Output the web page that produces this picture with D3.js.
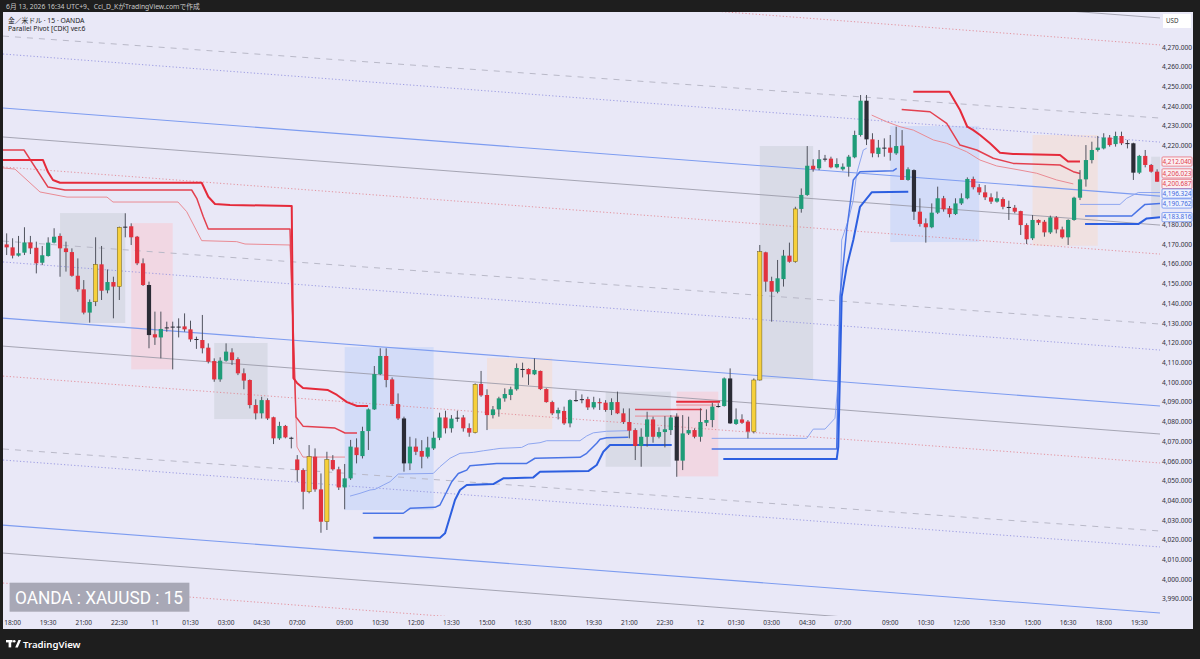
<!DOCTYPE html>
<html><head><meta charset="utf-8">
<script src="https://cdn.jsdelivr.net/npm/d3@7"></script>
<style>html,body{margin:0;padding:0;background:#1e1e1e;overflow:hidden}svg{display:block}</style>
</head><body><svg id="c" width="1200" height="659"></svg>
<script>
// ---------- DATA ----------
const firstBar = -1; // bar index of first candle (17:45); bar 0 = 18:00 (day 10)
// [open, high, low, close]
const candles = [
[4170.0,4175.6,4164.6,4168.5],[4168.5,4173.1,4162.9,4164.3],[4164.3,4174.3,4163.8,4165.5],[4165.8,4178.7,4164.6,4171.0],
[4171.0,4174.3,4165.1,4168.0],[4168.3,4171.4,4155.3,4160.4],[4160.7,4169.2,4159.5,4164.5],[4164.1,4173.6,4163.8,4170.9],
[4170.9,4178.2,4170.5,4173.9],[4174.3,4175.6,4153.6,4168.0],[4168.0,4171.4,4156.2,4166.1],[4166.1,4168.0,4153.6,4154.1],
[4154.1,4162.9,4146.0,4147.2],[4147.2,4151.9,4134.5,4135.4],[4135.4,4142.1,4130.3,4140.8],[4140.9,4173.6,4138.7,4159.9],
[4159.9,4169.2,4141.8,4146.5],[4146.7,4157.3,4145.2,4150.9],[4150.9,4153.6,4132.5,4148.6],[4148.6,4179.0,4141.8,4178.7],
[4179.0,4185.8,4173.6,4178.7],[4179.2,4180.7,4169.7,4173.6],[4173.9,4174.3,4159.5,4160.4],[4160.4,4162.9,4148.9,4149.4],
[4149.4,4151.1,4117.3,4124.0],[4124.4,4135.9,4119.0,4122.8],[4122.8,4135.9,4112.2,4127.1],[4127.6,4130.8,4125.7,4127.9],
[4127.9,4130.8,4106.6,4128.3],[4128.1,4132.5,4122.8,4128.3],[4128.4,4135.0,4125.7,4126.9],[4126.9,4131.3,4120.6,4121.8],
[4121.8,4123.2,4117.0,4122.0],[4121.5,4134.2,4114.7,4117.3],[4117.6,4119.8,4109.6,4110.5],[4110.8,4112.2,4100.3,4101.5],
[4101.5,4112.7,4100.3,4111.0],[4111.0,4119.8,4110.5,4115.6],[4115.2,4117.3,4108.8,4111.3],[4111.8,4112.7,4103.7,4104.6],
[4104.6,4107.1,4096.5,4100.9],[4101.2,4101.5,4086.8,4088.5],[4088.5,4091.4,4081.2,4084.3],[4084.3,4092.7,4081.7,4091.0],
[4091.0,4091.9,4080.9,4081.7],[4082.3,4082.6,4068.7,4071.6],[4071.6,4080.0,4070.8,4077.9],[4077.9,4078.4,4071.6,4072.1],
[4071.9,4072.4,4066.5,4071.8],[4060.9,4063.1,4049.6,4055.5],[4055.5,4056.4,4035.6,4044.5],[4044.5,4068.2,4043.7,4062.3],
[4062.3,4066.5,4044.5,4045.7],[4045.7,4053.8,4023.7,4029.3],[4029.3,4064.8,4025.1,4060.9],[4060.6,4063.1,4055.2,4055.9],
[4055.9,4057.2,4045.4,4046.7],[4046.7,4058.6,4035.6,4051.3],[4051.3,4070.8,4050.5,4067.4],[4067.0,4071.6,4058.9,4063.1],
[4062.6,4077.5,4061.4,4075.3],[4075.3,4086.8,4065.7,4086.3],[4086.3,4108.3,4086.0,4104.2],[4104.2,4117.3,4103.7,4113.4],
[4113.4,4117.3,4097.5,4101.2],[4101.5,4102.5,4088.0,4089.0],[4089.0,4094.4,4080.9,4081.7],[4081.7,4082.6,4054.7,4058.9],
[4058.9,4072.4,4055.5,4067.4],[4067.4,4071.6,4063.1,4064.8],[4065.2,4070.7,4056.4,4062.3],[4062.3,4072.4,4061.4,4067.0],
[4066.5,4075.0,4065.7,4071.9],[4071.9,4084.6,4070.7,4082.2],[4082.2,4085.6,4074.1,4076.7],[4076.7,4083.4,4074.5,4081.6],
[4081.9,4085.6,4080.0,4082.1],[4082.2,4083.4,4075.0,4076.7],[4076.8,4079.2,4072.4,4074.5],[4074.5,4099.5,4074.1,4099.0],
[4099.2,4105.8,4092.7,4093.4],[4093.6,4096.5,4075.8,4083.4],[4083.4,4088.0,4081.7,4086.3],[4086.3,4092.7,4082.6,4091.9],
[4091.9,4097.0,4090.2,4094.1],[4093.6,4097.8,4091.0,4096.5],[4096.5,4109.6,4095.8,4107.3],[4106.6,4110.0,4102.5,4106.8],
[4106.8,4107.1,4098.7,4104.1],[4104.1,4112.2,4103.7,4106.3],[4105.8,4106.0,4096.1,4096.6],[4096.6,4097.0,4089.7,4090.0],
[4090.0,4090.7,4083.4,4084.3],[4084.3,4087.2,4081.2,4086.0],[4085.5,4087.7,4078.4,4079.2],[4079.2,4091.4,4077.2,4091.0],
[4090.9,4095.8,4090.2,4091.0],[4091.4,4093.9,4089.4,4091.5],[4091.5,4092.7,4086.0,4087.3],[4087.3,4092.7,4086.3,4090.0],
[4090.0,4091.9,4086.0,4089.4],[4089.7,4091.0,4085.1,4086.0],[4086.0,4091.9,4083.4,4090.0],[4090.0,4095.3,4083.9,4084.3],
[4084.3,4086.8,4078.9,4079.9],[4079.9,4086.8,4071.6,4075.5],[4075.8,4076.7,4060.6,4067.7],[4067.7,4076.7,4057.2,4072.4],
[4072.4,4085.1,4067.4,4081.2],[4081.2,4082.6,4069.4,4072.4],[4072.4,4077.2,4071.6,4074.8],[4074.8,4082.9,4067.0,4076.2],
[4075.8,4083.4,4073.3,4082.2],[4082.6,4084.3,4052.1,4060.3],[4060.3,4083.4,4055.5,4074.1],[4074.1,4082.6,4073.3,4075.8],
[4075.8,4076.7,4071.6,4072.4],[4072.4,4086.8,4069.9,4079.9],[4079.5,4086.3,4077.8,4080.9],[4080.9,4089.7,4077.2,4087.7],
[4087.7,4089.4,4087.2,4088.0],[4088.0,4102.5,4087.7,4102.0],[4102.0,4107.1,4078.9,4079.2],[4078.9,4086.8,4078.4,4081.2],
[4081.2,4083.8,4078.9,4079.5],[4080.1,4080.9,4071.6,4075.0],[4075.0,4102.0,4074.1,4101.2],[4101.2,4169.7,4100.9,4166.3],
[4166.0,4166.3,4146.0,4151.1],[4151.4,4153.6,4130.8,4146.0],[4146.0,4162.1,4145.2,4152.8],[4152.4,4167.2,4148.6,4164.3],
[4164.3,4170.9,4160.7,4161.2],[4161.2,4189.1,4160.7,4188.0],[4188.0,4198.4,4186.1,4195.1],[4195.1,4219.9,4194.6,4209.9],
[4209.9,4213.2,4206.9,4208.1],[4208.6,4217.9,4207.7,4213.2],[4213.3,4215.4,4212.0,4213.5],[4213.5,4214.5,4208.6,4209.1],
[4209.1,4213.7,4208.6,4210.8],[4208.1,4211.1,4207.4,4209.4],[4209.4,4215.4,4204.4,4214.5],[4214.2,4227.7,4213.7,4225.5],
[4225.5,4245.8,4224.7,4242.9],[4242.9,4245.8,4220.4,4223.3],[4223.3,4226.4,4214.2,4216.2],[4215.9,4223.0,4214.2,4219.1],
[4218.9,4223.8,4214.5,4219.1],[4219.1,4225.5,4212.5,4216.5],[4216.2,4229.7,4215.4,4219.9],[4220.1,4228.0,4202.7,4202.7],
[4202.7,4209.1,4202.3,4208.1],[4207.7,4208.1,4182.4,4186.6],[4186.6,4193.4,4179.0,4180.4],[4180.7,4183.2,4170.9,4178.7],
[4178.7,4190.8,4178.2,4186.1],[4186.1,4199.3,4185.4,4193.4],[4193.4,4194.6,4186.6,4187.8],[4188.3,4189.5,4183.7,4185.4],
[4185.4,4193.4,4184.9,4190.8],[4190.8,4195.9,4190.0,4193.4],[4193.4,4204.0,4192.9,4203.2],[4203.2,4204.4,4197.9,4199.0],
[4199.0,4200.6,4195.1,4196.4],[4196.4,4200.1,4192.5,4193.9],[4193.9,4195.9,4190.5,4191.7],[4191.7,4196.8,4191.2,4193.4],
[4193.0,4193.9,4187.8,4189.1],[4189.0,4192.2,4182.4,4188.8],[4188.6,4190.0,4185.8,4186.6],[4186.9,4187.1,4174.8,4179.8],
[4179.8,4180.7,4170.2,4172.6],[4173.1,4184.9,4172.2,4182.4],[4182.4,4182.7,4179.8,4181.0],[4181.5,4182.4,4173.9,4176.1],
[4176.1,4184.6,4175.3,4183.7],[4183.7,4184.4,4175.6,4177.6],[4177.6,4179.0,4172.9,4173.6],[4173.6,4182.7,4169.7,4182.4],
[4182.4,4194.2,4182.0,4193.7],[4193.7,4207.7,4192.5,4203.0],[4203.0,4220.4,4199.3,4212.8],[4212.8,4222.1,4211.1,4217.9],
[4217.9,4225.0,4217.1,4219.1],[4218.7,4226.4,4218.2,4224.2],[4224.2,4225.5,4219.6,4220.4],[4220.9,4227.2,4219.6,4225.0],
[4225.0,4227.2,4220.4,4221.3],[4221.4,4223.0,4218.7,4221.3],[4221.3,4221.6,4202.7,4206.4],[4206.4,4215.4,4205.7,4214.9],
[4214.9,4217.9,4209.1,4210.3],[4210.3,4210.8,4206.4,4206.9],[4206.9,4208.1,4201.8,4201.8]
];
const yellowBars = [14,18,50,53,78,125,126,132];
const darkBars = [19,23,26,27,28,31,47,66,75,86,95,96,112,119,121,137,144,147,152,168,188,189];

const timeTickBars   = [0,6,12,18,24,30,36,42,48,56,62,68,74,80,86,92,98,104,110,116,122,128,134,140,148,154,160,166,172,178,184,190];
const timeTickLabels = ["18:00","19:30","21:00","22:30","11","01:30","03:00","04:30","07:00","09:00","10:30","12:00","13:30","15:00","16:30","18:00","19:30","21:00","22:30","12","01:30","03:00","04:30","07:00","09:00","10:30","12:00","13:30","15:00","16:30","18:00","19:30"];
const priceTicks = [3990,4000,4010,4020,4030,4040,4050,4060,4070,4080,4090,4100,4110,4120,4130,4140,4150,4160,4170,4180,4190,4200,4210,4220,4230,4240,4250,4260,4270];

// parallel channel lines: [price at left edge, price at right edge]
const channelBlue   = [[4239.2,4194.5],[4132.6,4088.0],[4027.6,3983.0]];
const channelGray   = [[4329.5,4284.9],[4224.5,4179.8],[4118.4,4073.8],[4013.4,3968.8]];
const channelPinkDot= [[4315.8,4271.2],[4209.3,4165.1],[4103.2,4059.1],[3998.2,3954.0]];
const channelBlueDot= [[4266.6,4221.9],[4161.1,4116.4],[4060.6,4016.5]];
const channelDash   = [[4275.7,4234.1],[4171.7,4129.6],[4066.2,4024.6]];

// range boxes: [start bar, end bar, top, bottom, kind]
const rangeBoxes = [
[8,19,4185.9,4130.1,"gray"],[20,27,4180.8,4106.6,"pink"],[34,43,4120.0,4081.4,"gray"],
[56,71,4117.9,4035.2,"blue"],[80,91,4112.4,4076.3,"beige"],[100,111,4095.3,4057.2,"gray"],
[112,119,4095.3,4052.3,"pink"],[126,135,4219.9,4101.7,"gray"],[148,163,4230.1,4171.2,"blue"],
[172,183,4225.5,4169.3,"beige"],[192,196,4214.5,4184.0,"gray"]
];

// pivot lines: segments of [bar, price]
const resistance1 = [
[[-1.62,4212.8],[5.13,4212.8],[5.97,4206.7],[6.81,4202.7],[7.99,4201.3],[31.89,4201.3],[33.0,4194.2],[34.13,4190.5],[36.66,4190.0],[47.07,4189.5],[47.35,4102.2],[47.96,4099.7],[48.97,4097.1],[53.19,4096.1],[54.7,4093.6],[56.39,4090.0],[58.08,4088.0],[59.93,4088.0]],
[[111.9,4090.2],[119.3,4090.2]],
[[151.89,4247.5],[157.96,4247.5],[159.76,4238.2],[160.99,4229.7],[162.0,4228.0],[163.14,4225.5],[164.82,4221.3],[166.51,4216.5],[168.7,4215.9],[176.63,4215.4],[177.98,4212.04],[180.0,4212.04]]
];
const resistance2 = [
[[-1.62,4217.9],[1.92,4217.9],[5.97,4199.1],[8.84,4197.6],[30.2,4197.6],[31.05,4193.4],[32.16,4184.0],[33.0,4177.8],[46.78,4177.8],[47.79,4082.4],[48.97,4077.8],[54.37,4076.8],[56.06,4074.3],[58.08,4074.3]],
[[104.96,4086.3],[116.26,4086.3]],
[[149.93,4238.5],[154.7,4237.3],[157.52,4231.4],[159.76,4220.4],[162.58,4217.9],[165.38,4213.7],[168.75,4211.1],[176.63,4210.3],[178.87,4206.9],[180.0,4206.02]]
];
const resistance3 = [
[[-1.62,4208.8],[0.40,4208.2],[4.62,4196.6],[9.17,4194.0],[15.92,4194.0],[16.93,4191.5],[27.89,4191.5],[29.36,4186.6],[31.89,4171.9],[37.79,4171.4],[39.19,4170.2],[46.78,4169.7],[47.96,4067.2],[48.97,4062.1],[56.06,4062.1]],
[[104.96,4082.9],[112.4,4082.9]],
[[111.9,4088.5],[118.6,4088.5]],
[[144.87,4235.6],[147.4,4232.2],[149.65,4229.7],[151.89,4228.0],[155.26,4223.0],[157.52,4221.3],[160.89,4217.0],[163.14,4212.8],[165.95,4209.8],[169.88,4207.7],[172.69,4206.1],[176.06,4202.7],[178.87,4200.69]]
];
const support1 = [
[[60.83,4021.2],[72.07,4021.2],[72.92,4023.4],[73.76,4031.8],[74.6,4040.3],[75.45,4045.4],[76.58,4047.9],[81.06,4048.4],[82.75,4051.3],[87.81,4051.8],[88.94,4054.7],[97.08,4055.0],[98.5,4058.1],[99.61,4064.8],[100.74,4068.2],[111.15,4068.2]],
[[119.85,4061.1],[138.97,4061.1],[139.24,4067.3],[139.81,4143.5],[140.66,4158.7],[141.77,4172.2],[142.9,4189.1],[144.87,4196.4],[151.04,4196.7]],
[[180.85,4180.3],[189.83,4180.3],[191.25,4183.2],[193.49,4183.82]]
];
const support2 = [
[[59.04,4033.6],[65.89,4033.6],[67.02,4036.1],[71.23,4036.6],[72.07,4037.8],[73.2,4044.5],[74.05,4049.6],[75.16,4053.8],[76.58,4055.5],[77.13,4057.7],[81.64,4058.9],[86.69,4058.9],[88.09,4061.5],[95.68,4062.0],[96.81,4064.0],[98.5,4069.1],[99.06,4071.1],[100.19,4071.9],[103.83,4072.1]],
[[117.89,4066.2],[138.97,4066.2],[139.53,4143.5],[140.66,4177.3],[141.77,4202.7],[142.9,4206.9],[148.52,4207.4],[149.09,4208.6]],
[[180.85,4184.4],[188.72,4184.4],[189.83,4187.4],[190.96,4190.3],[193.49,4190.76]]
];
const support3 = [
[[56.9,4042.3],[58.58,4043.7],[60.27,4045.4],[61.11,4045.7],[62.51,4047.9],[63.64,4049.6],[65.04,4053.5],[70.94,4053.8],[72.07,4057.2],[73.76,4061.5],[75.45,4064.0],[77.69,4064.5],[79.38,4065.3],[81.06,4066.0],[82.19,4066.5],[85.85,4067.0],[86.96,4068.7],[88.94,4069.4],[90.07,4070.4],[95.68,4070.4],[96.81,4072.8],[97.93,4074.4],[100.19,4075.2],[103.83,4075.5]],
[[117.89,4071.6],[133.91,4071.6],[135.02,4076.3],[137.0,4076.3],[138.68,4081.8],[139.24,4101.2],[139.81,4172.2],[140.93,4182.4],[141.77,4192.5],[142.35,4206.1],[143.46,4217.9],[144.03,4218.8]],
[[180.0,4190.3],[186.74,4190.3],[187.87,4193.4],[189.83,4196.32],[193.49,4196.32]]
];
const lastLabelValues = [4212.040,4206.023,4200.687,4196.324,4190.762,4183.816];
const lastLabelKinds  = ["r","r","r","b","b","b"];

// ---------- RENDER ----------
const W=1200,H=659;
const plot={x0:3,x1:1160,y0:12,y1:616};
const x=d3.scaleLinear().domain([-1.619,193.49]).range([plot.x0,plot.x1]);
const y=d3.scaleLinear().domain([3981.47,4287.91]).range([plot.y1,plot.y0]);
const FONT='"Noto Sans","Noto Sans CJK JP",sans-serif';
const svg=d3.select('#c');
svg.append('rect').attr('width',W).attr('height',H).attr('fill','#1e1e1e');
svg.append('rect').attr('x',3).attr('y',12).attr('width',1190).attr('height',617).attr('fill','#e9e8f7');
svg.append('defs').append('clipPath').attr('id','clip').append('rect')
  .attr('x',plot.x0).attr('y',plot.y0).attr('width',plot.x1-plot.x0).attr('height',plot.y1-plot.y0);
const g=svg.append('g').attr('clip-path','url(#clip)');

const boxFill={gray:'#d9dbe7',pink:'#f1d7e3',blue:'#d3dcf8',beige:'#f0e1e1'};
g.selectAll('rect.box').data(rangeBoxes).join('rect').attr('class','box')
  .attr('x',d=>x(d[0])).attr('width',d=>x(d[1])-x(d[0]))
  .attr('y',d=>y(d[2])).attr('height',d=>y(d[3])-y(d[2]))
  .attr('fill',d=>boxFill[d[4]]);

const [kL,kR]=x.domain();
function chan(data,stroke,width,dash,op){
  g.append('g').selectAll('line').data(data).join('line')
   .attr('x1',x(kL)).attr('x2',x(kR)).attr('y1',d=>y(d[0])).attr('y2',d=>y(d[1]))
   .attr('stroke',stroke).attr('stroke-width',width).attr('stroke-dasharray',dash).attr('opacity',op);
}
chan(channelDash,'#b9b9c8',1,'6,6',1);
chan(channelPinkDot,'#e3848f',1,'1.2,2.2',0.85);
chan(channelBlueDot,'#8f8fe0',1,'1.2,2.2',0.85);
chan(channelGray,'#9a9aa8',1,null,0.85);
chan(channelBlue,'#7d9cf0',1.1,null,1);

const line=d3.line().x(d=>x(d[0])).y(d=>y(d[1]));
function piv(segs,stroke,width){
  g.append('g').selectAll('path').data(segs).join('path')
   .attr('d',line).attr('fill','none').attr('stroke',stroke).attr('stroke-width',width)
   .attr('stroke-linejoin','round');
}
piv(resistance3,'#ea8b94',1);
piv(resistance2,'#e3404f',1.5);
piv(resistance1,'#e52a3a',2);
piv(support3,'#8ea6f0',1);
piv(support2,'#4a74e6',1.5);
piv(support1,'#2d5fe0',2);

// candles
const bars=candles.map((c,i)=>({k:firstBar+i,o:c[0],h:c[1],l:c[2],c:c[3]}));
const ySet=new Set(yellowBars), kSet=new Set(darkBars);
function col(d){ if(ySet.has(d.k)) return '#f6d03b'; if(kSet.has(d.k)) return '#2b2c36'; return d.c>=d.o?'#1f9c78':'#e1323f'; }
const cg=g.append('g');
cg.selectAll('line').data(bars).join('line')
  .attr('x1',d=>x(d.k)).attr('x2',d=>x(d.k)).attr('y1',d=>y(d.h)).attr('y2',d=>y(d.l))
  .attr('stroke','#50535e').attr('stroke-width',1);
cg.selectAll('rect').data(bars).join('rect')
  .attr('x',d=>x(d.k)-2.1).attr('width',4.2)
  .attr('y',d=>y(Math.max(d.o,d.c))).attr('height',d=>Math.max(1,Math.abs(y(d.o)-y(d.c))))
  .attr('fill',col)
  .attr('stroke',d=>ySet.has(d.k)?'#6a5a18':'none').attr('stroke-width',0.5);

// last value label positions (spread to avoid overlap)
let prev=-1e9;
const labs=lastLabelValues.map((v,i)=>{let yy=y(v); if(yy<prev+9.6) yy=prev+9.6; prev=yy; return {v,yy,kind:lastLabelKinds[i]};});

// price axis (ticks hidden under the value labels are not drawn, as in the reference)
const fmt=d3.format(',.3f');
const visibleTicks=priceTicks.filter(t=>labs.every(l=>Math.abs(y(t)-l.yy)>6.5));
svg.append('g').selectAll('text').data(visibleTicks).join('text')
  .attr('x',1177).attr('y',d=>y(d)+2.3).attr('text-anchor','middle')
  .attr('font-family',FONT).attr('font-size',6.6).attr('fill','#2f2f3a').text(d=>fmt(d));
// USD box
svg.append('rect').attr('x',1163).attr('y',14).attr('width',28).attr('height',14).attr('fill','#ffffff');
svg.append('text').attr('x',1166).attr('y',23.2).attr('font-family',FONT).attr('font-size',6.2).attr('fill','#333').text('USD');

const lg=svg.append('g');
lg.selectAll('rect').data(labs).join('rect')
  .attr('x',1162).attr('y',d=>d.yy-4.6).attr('width',30).attr('height',9.2).attr('rx',1)
  .attr('fill',d=>d.kind==='r'?'#fbeef1':'#eef2fd')
  .attr('stroke',d=>d.kind==='r'?'#e8707c':'#6d8ff0').attr('stroke-width',0.8);
lg.selectAll('text').data(labs).join('text')
  .attr('x',1177).attr('y',d=>d.yy+2.3).attr('text-anchor','middle')
  .attr('font-family',FONT).attr('font-size',6.4)
  .attr('fill',d=>d.kind==='r'?'#e0404e':'#3f68e0').text(d=>fmt(d.v));

// time axis
svg.append('g').selectAll('text').data(timeTickBars).join('text')
  .attr('x',d=>x(d)).attr('y',625).attr('text-anchor','middle')
  .attr('font-family',FONT).attr('font-size',6.5).attr('fill','#2f2f3a')
  .text((d,i)=>timeTickLabels[i]);

// header & legend
svg.append('text').attr('x',6).attr('y',9).attr('font-family',FONT).attr('font-size',6.8).attr('fill','#c9c9c9')
  .text('6月 13, 2026 16:34 UTC+9、Cci_D_KがTradingView.comで作成');
svg.append('text').attr('x',8).attr('y',22.5).attr('font-family',FONT).attr('font-size',6.8).attr('fill','#222')
  .text('金／米ドル · 15 · OANDA');
svg.append('text').attr('x',8).attr('y',31).attr('font-family',FONT).attr('font-size',6.8).attr('fill','#222')
  .text('Parallel Pivot [CDK] ver.6');

// watermark
svg.append('rect').attr('x',9.6).attr('y',582.7).attr('width',179.8).attr('height',29).attr('fill','#a8a8b6');
svg.append('text').attr('x',15).attr('y',604).attr('font-family','Roboto,sans-serif').attr('font-size',18)
  .attr('fill','#ffffff').attr('textLength',168).attr('lengthAdjust','spacingAndGlyphs').text('OANDA : XAUUSD : 15');

// TradingView logo
const lo=svg.append('g').attr('fill','#ffffff');
lo.append('rect').attr('x',6).attr('y',640).attr('width',6.5).attr('height',2.4);
lo.append('rect').attr('x',8.6).attr('y',640).attr('width',2.6).attr('height',7.4);
lo.append('circle').attr('cx',14.2).attr('cy',641.3).attr('r',1.3);
lo.append('path').attr('d','M15.2,647.4 L18.4,640 L21,640 L17.8,647.4 Z');
svg.append('text').attr('x',23).attr('y',647.6).attr('font-family',FONT).attr('font-size',9.6).attr('font-weight',600)
  .attr('fill','#ffffff').text('TradingView');
</script></body></html>
